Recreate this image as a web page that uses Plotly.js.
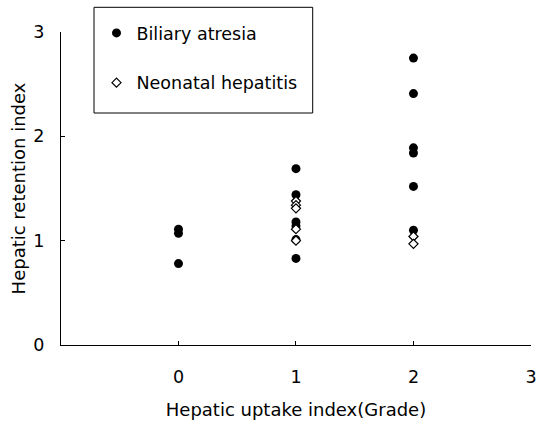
<!DOCTYPE html>
<html>
<head>
<meta charset="utf-8">
<script src="https://cdn.plot.ly/plotly-3.0.1.min.js"></script>
<style>html,body{margin:0;padding:0;background:#fff;}#chart{width:538px;height:426px;}</style>
</head>
<body>
<div id="chart"></div>
<script>
// Data
var seriesNames = ["Biliary atresia", "Neonatal hepatitis"];
var biliaryGrade = [0, 0, 0, 1, 1, 1, 1, 1, 1, 2, 2, 2, 2, 2, 2];
var biliaryIndex = [1.11, 1.07, 0.78, 1.69, 1.44, 1.18, 1.14, 1.01, 0.83, 2.75, 2.41, 1.89, 1.84, 1.52, 1.10];
var neonatalGrade = [1, 1, 1, 1, 1, 2, 2];
var neonatalIndex = [1.38, 1.34, 1.31, 1.11, 1.00, 1.04, 0.97];
var xTickVals = [0, 1, 2, 3];
var xTickText = ["0", "1", "2", "3"];
var yTickVals = [0, 1, 2, 3];
var xTitle = "Hepatic uptake index(Grade)";
var yTitle = "Hepatic retention index";

var FONT = "DejaVu Sans, Liberation Sans, Arial, sans-serif";

var traces = [
  {
    type: "scatter", mode: "markers", name: seriesNames[0], legendgroup: "a",
    x: biliaryGrade, y: biliaryIndex,
    marker: {symbol: "circle", size: 9, color: "#000", line: {width: 0}}
  },
  {
    type: "scatter", mode: "markers", name: seriesNames[1], legendgroup: "b",
    x: neonatalGrade, y: neonatalIndex,
    marker: {symbol: "diamond", size: 7, color: "#fff", line: {color: "#000", width: 1.2}}
  }
];

// plot area: x 61..531 px, y 32..345 px
var PL = 61, PW = 470, PT = 32, PH = 313;
function px(xp) { return (xp - PL) / PW; }
function py(yp) { return (PT + PH - yp) / PH; }

var layout = {
  width: 538, height: 426,
  margin: {l: PL, r: 538 - PL - PW, t: PT, b: 426 - PT - PH, pad: 0},
  paper_bgcolor: "#fff", plot_bgcolor: "#fff",
  font: {family: FONT, size: 17.5, color: "#000"},
  showlegend: true,
  legend: {
    x: px(96.5), y: py(15), xanchor: "left", yanchor: "top",
    bgcolor: "rgba(0,0,0,0)", borderwidth: 0,
    traceorder: "grouped", tracegroupgap: 24,
    font: {family: FONT, size: 17.5, color: "#000"}
  },
  shapes: [
    {type: "rect", xref: "paper", yref: "paper",
     x0: px(94), x1: px(312.7), y0: py(113), y1: py(7.3),
     line: {color: "#000", width: 1}, fillcolor: "rgba(0,0,0,0)", layer: "above"}
  ],
  xaxis: {
    range: [-1, 3.0005], tickmode: "array", tickvals: xTickVals, ticktext: xTickText,
    showline: true, linecolor: "#000", linewidth: 1,
    ticks: "inside", ticklen: 4, tickcolor: "#000", tickwidth: 1,
    showgrid: false, zeroline: false,
    ticklabelstandoff: 16, ticklabeloverflow: "allow",
    tickfont: {family: FONT, size: 17.5, color: "#000"},
    title: {text: xTitle, font: {family: FONT, size: 18, color: "#000"}, standoff: 17},
    automargin: false
  },
  yaxis: {
    range: [0, 3], tickmode: "array", tickvals: yTickVals,
    showline: true, linecolor: "#000", linewidth: 1,
    ticks: "inside", ticklen: 4, tickcolor: "#000", tickwidth: 1,
    showgrid: false, zeroline: false,
    ticklabelstandoff: 12,
    tickfont: {family: FONT, size: 17.5, color: "#000"},
    title: {text: yTitle, font: {family: FONT, size: 18, color: "#000"}, standoff: 3},
    automargin: false
  }
};

Plotly.newPlot("chart", traces, layout, {staticPlot: true, displayModeBar: false});
</script>
</body>
</html>
